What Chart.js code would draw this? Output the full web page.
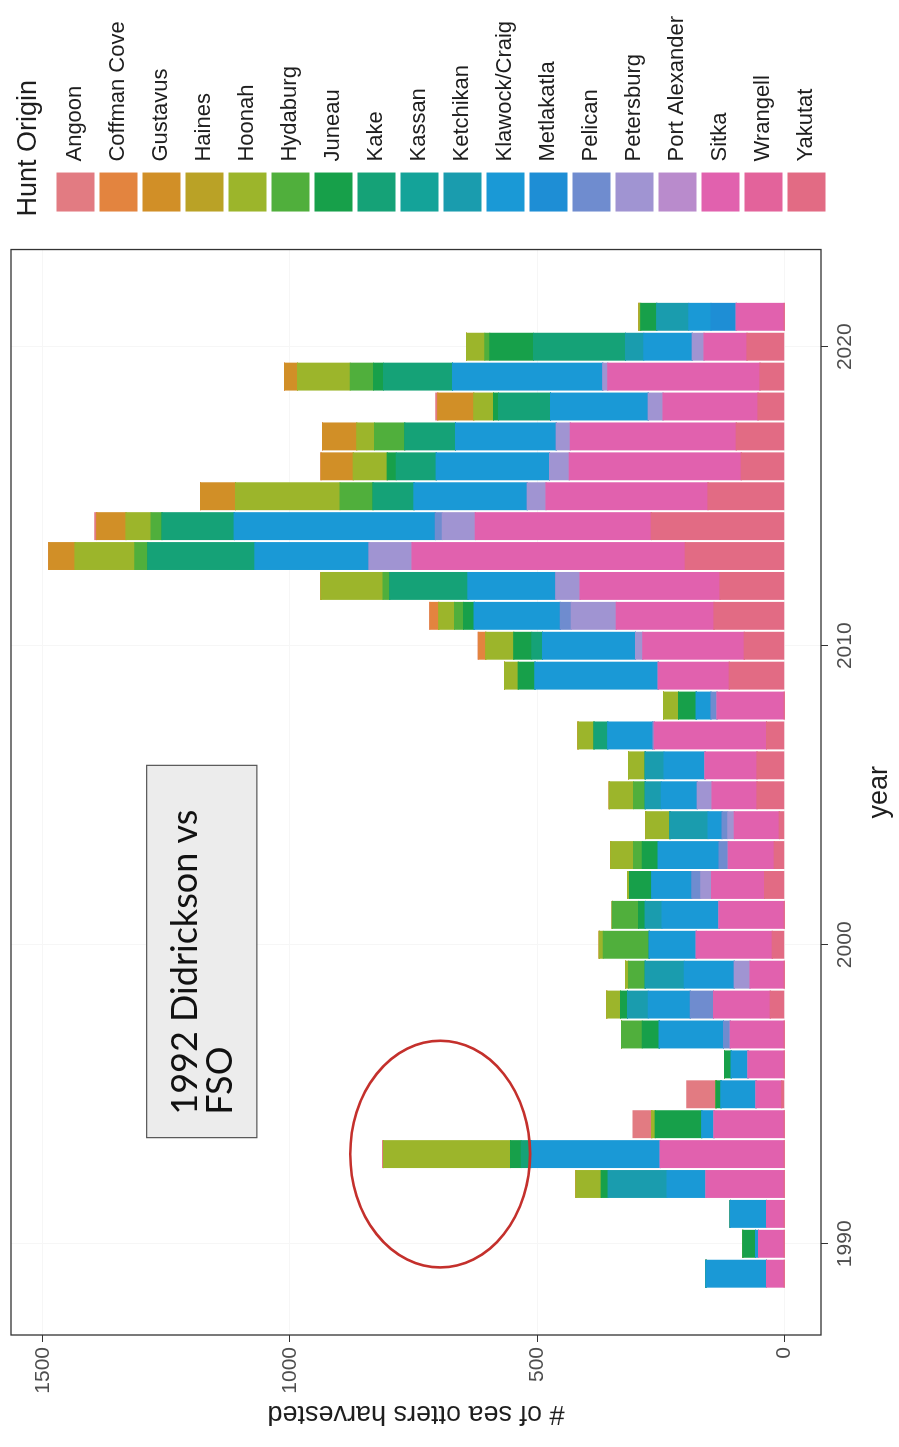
<!DOCTYPE html>
<html>
<head>
<meta charset="utf-8">
<script src="https://cdn.jsdelivr.net/npm/chart.js@4.4.1/dist/chart.umd.min.js"></script>
<style>
    html, body { margin: 0; padding: 0; background: #fff; }
    body { width: 899px; height: 1447px; overflow: hidden; position: relative; }
    /* the page shows the plot turned a quarter turn counter-clockwise */
    #turn { position: absolute; left: 0; top: 0; width: 1447px; height: 899px;
            transform-origin: 0 0; transform: translate(0, 1447px) rotate(-90deg); }
</style>
</head>
<body>
<div id="turn"><canvas id="myChart" width="1447" height="899"></canvas></div>
<script>
const years = [1989, 1990, 1991, 1992, 1993, 1994, 1995, 1996, 1997, 1998,
               1999, 2000, 2001, 2002, 2003, 2004, 2005, 2006, 2007, 2008,
               2009, 2010, 2011, 2012, 2013, 2014, 2015, 2016, 2017, 2018,
               2019, 2020, 2021];

const origins = ['Angoon', 'Coffman Cove', 'Gustavus', 'Haines', 'Hoonah', 'Hydaburg',
                 'Juneau', 'Kake', 'Kassan', 'Ketchikan', 'Klawock/Craig', 'Metlakatla',
                 'Pelican', 'Petersburg', 'Port Alexander', 'Sitka', 'Wrangell', 'Yakutat'];

//                 1989 ...                                   1998  1999 ...                                          2008  2009 ...                                                2018  2019 2020 2021
const angoon     = [0, 0, 0, 0, 2, 38, 59, 0, 0, 0,            0, 0, 0, 0, 0, 0, 0, 0, 0, 0,                          0, 0, 0, 0, 0, 4, 0, 0, 0, 4,                                   0, 0, 0];
const coffman    = [0, 0, 0, 0, 0, 0, 0, 0, 0, 0,              0, 0, 0, 0, 0, 0, 0, 0, 0, 0,                          0, 15, 18, 0, 0, 0, 0, 0, 0, 0,                                 0, 0, 0];
const gustavus   = [0, 0, 0, 0, 0, 0, 0, 0, 0, 0,              0, 0, 0, 0, 0, 0, 0, 0, 0, 0,                          0, 0, 0, 0, 53, 59, 71, 65, 69, 73,                             26, 0, 0];
const haines     = [0, 0, 0, 0, 0, 0, 0, 0, 0, 0,              0, 0, 0, 0, 0, 0, 0, 0, 0, 0,                          0, 0, 0, 0, 0, 0, 0, 0, 0, 0,                                   0, 0, 0];
const hoonah     = [0, 0, 0, 51, 257, 7, 0, 0, 0, 28,          6, 8, 0, 4, 46, 49, 49, 34, 32, 30,                    28, 57, 32, 125, 121, 51, 211, 69, 36, 40,                      107, 37, 4];
const hydaburg   = [0, 0, 0, 0, 0, 0, 0, 0, 42, 0,             34, 93, 53, 0, 18, 0, 24, 0, 0, 0,                     0, 0, 18, 14, 26, 22, 67, 0, 61, 0,                             47, 10, 0];
const juneau     = [0, 26, 0, 14, 22, 94, 10, 14, 34, 14,      0, 0, 14, 45, 32, 0, 0, 0, 0, 36,                      34, 36, 22, 0, 0, 0, 0, 18, 0, 10,                              20, 89, 32];
const kake       = [0, 0, 0, 0, 20, 0, 0, 0, 0, 0,             0, 0, 0, 0, 0, 0, 0, 0, 28, 0,                         0, 22, 0, 158, 217, 146, 83, 81, 103, 105,                      140, 186, 0];
const kassan     = [0, 0, 0, 0, 0, 0, 0, 0, 0, 0,              0, 0, 0, 0, 0, 0, 0, 0, 0, 0,                          0, 0, 0, 0, 0, 0, 0, 0, 0, 0,                                   0, 0, 0];
const ketchikan  = [0, 0, 0, 119, 0, 0, 0, 0, 0, 42,           79, 0, 34, 0, 0, 77, 32, 38, 0, 0,                     0, 0, 0, 0, 0, 0, 0, 0, 0, 0,                                   0, 37, 65];
const klawock    = [122, 6, 73, 79, 261, 25, 71, 34, 130, 85,  101, 95, 115, 81, 123, 28, 73, 83, 91, 30,             249, 188, 174, 178, 231, 407, 229, 229, 204, 198,               304, 98, 45];
const metlakatla = [0, 0, 0, 0, 0, 0, 0, 0, 0, 0,              0, 0, 0, 0, 0, 0, 0, 0, 0, 0,                          0, 0, 0, 0, 0, 0, 0, 0, 0, 0,                                   0, 0, 51];
const pelican    = [0, 0, 0, 0, 0, 0, 0, 0, 14, 47,            0, 0, 0, 18, 19, 12, 0, 0, 3, 12,                      0, 0, 22, 0, 0, 14, 0, 0, 0, 0,                                 0, 0, 0];
const petersburg = [0, 0, 0, 0, 0, 0, 0, 0, 0, 0,              32, 0, 0, 22, 0, 13, 30, 0, 0, 0,                      0, 15, 91, 49, 87, 67, 38, 40, 28, 30,                          10, 24, 0];
const portAlex   = [0, 0, 0, 0, 0, 0, 0, 0, 0, 0,              0, 0, 0, 0, 0, 0, 0, 0, 0, 0,                          0, 0, 0, 0, 0, 0, 0, 0, 0, 0,                                   0, 0, 0];
const sitka      = [36, 52, 36, 158, 251, 142, 52, 73, 109, 115, 69, 154, 132, 107, 93, 91, 91, 105, 227, 136,       144, 205, 198, 283, 553, 356, 328, 348, 336, 192,               308, 87, 97];
const wrangell   = [0, 0, 0, 0, 0, 0, 0, 0, 0, 0,              0, 0, 0, 0, 0, 0, 0, 0, 0, 0,                          0, 0, 0, 0, 0, 0, 0, 0, 0, 0,                                   0, 0, 0];
const yakutat    = [0, 0, 0, 0, 0, 0, 5, 0, 0, 28,             0, 24, 0, 40, 20, 10, 55, 55, 36, 0,                   111, 81, 142, 130, 200, 269, 154, 87, 97, 53,                   49, 75, 0];

const series = [angoon, coffman, gustavus, haines, hoonah, hydaburg, juneau, kake, kassan,
                ketchikan, klawock, metlakatla, pelican, petersburg, portAlex, sitka, wrangell, yakutat];

const colores = ['#E27B82', '#E3843F', '#D18F27', '#BAA226', '#9CB52B', '#50AF3C', '#17A04A',
                 '#15A277', '#14A399', '#1A9CAE', '#1A99D6', '#1E8ED5', '#6F8CCF', '#A094D2',
                 '#B98BCC', '#E161AE', '#E3639B', '#E26B84'];

const xTicks = [1990, 2000, 2010, 2020];
const yTicks = [0, 500, 1000, 1500];

// note box and the red ring, in data units
const noteYears = [1993.55, 2006.0];
const noteValues = [1067, 1290];
const noteLines = ['1992 Didrickson vs', 'FSO'];
const ringCenter = [1993.0, 696];
const ringRadius = [3.79, 182];

Chart.defaults.font.family = '"Liberation Sans", Arial, sans-serif';

const notas = {
    id: 'notas',
    afterDatasetsDraw(chart) {
        const {ctx, chartArea: a, scales: {x, y}} = chart;
        ctx.save();

        ctx.strokeStyle = '#333';
        ctx.lineWidth = 1.3;
        ctx.strokeRect(a.left, a.top, a.width, a.height);

        const x1 = x.getPixelForValue(noteYears[0]);
        const x2 = x.getPixelForValue(noteYears[1]);
        const y1 = y.getPixelForValue(noteValues[1]);
        const y2 = y.getPixelForValue(noteValues[0]);
        ctx.fillStyle = '#ececec';
        ctx.fillRect(x1, y1, x2 - x1, y2 - y1);
        ctx.strokeStyle = '#555';
        ctx.lineWidth = 1.2;
        ctx.strokeRect(x1, y1, x2 - x1, y2 - y1);
        ctx.fillStyle = '#111';
        ctx.font = '36px Lato, "Open Sans", sans-serif';
        ctx.textBaseline = 'alphabetic';
        ctx.textAlign = 'left';
        noteLines.forEach((t, i) => ctx.fillText(t, x1 + 23, y1 + 50 + i * 35));

        const cx = x.getPixelForValue(ringCenter[0]);
        const cy = y.getPixelForValue(ringCenter[1]);
        const rx = Math.abs(x.getPixelForValue(ringCenter[0] + ringRadius[0]) - cx);
        const ry = Math.abs(y.getPixelForValue(ringCenter[1] + ringRadius[1]) - cy);
        ctx.beginPath();
        ctx.ellipse(cx, cy, rx, ry, 0, 0, Math.PI * 2);
        ctx.strokeStyle = '#C4302C';
        ctx.lineWidth = 2.6;
        ctx.stroke();

        ctx.restore();
    }
};

// ggplot stacks the first level on top, so datasets go in reverse
const datasets = origins.map((name, i) => ({
    label: name,
    data: series[i],
    backgroundColor: colores[i],
    borderWidth: 0,
    inflateAmount: 0.5,
    categoryPercentage: 0.9,
    barPercentage: 1.0
})).reverse();

const ctx = document.getElementById('myChart').getContext('2d');

const myChart = new Chart(ctx, {
    type: 'bar',
    data: {
        labels: years,
        datasets: datasets
    },
    options: {
        responsive: false,
        animation: false,
        layout: { padding: { top: 11, right: 6, bottom: 0, left: 0 } },
        plugins: {
            tooltip: { enabled: false },
            legend: {
                position: 'right',
                align: 'start',
                reverse: true,
                title: {
                    display: true,
                    text: 'Hunt Origin',
                    position: 'start',
                    color: '#1e1e1e',
                    font: { size: 27 },
                    padding: { top: 4, bottom: 4 }
                },
                labels: {
                    boxWidth: 39,
                    boxHeight: 38,
                    padding: 5,
                    color: '#1e1e1e',
                    font: { size: 22 }
                }
            }
        },
        scales: {
            x: {
                type: 'linear',
                stacked: true,
                offset: false,
                min: 1986.95,
                max: 2023.25,
                afterBuildTicks: s => { s.ticks = xTicks.map(v => ({ value: v })); },
                grid: { offset: false, color: '#f6f6f6', tickColor: '#333', tickLength: 7 },
                border: { display: false },
                ticks: { color: '#4d4d4d', font: { size: 21 }, padding: 5, maxRotation: 0,
                         callback: v => String(v) },
                title: { display: true, text: 'year', color: '#1e1e1e', font: { size: 27 },
                         padding: { top: 0, bottom: 3 } },
                afterFit: s => { s.height = 78; s.paddingLeft = 0; s.paddingRight = 0; }
            },
            y: {
                stacked: true,
                min: -74.5,
                max: 1564.5,
                afterBuildTicks: s => { s.ticks = yTicks.map(v => ({ value: v })); },
                grid: { color: '#f6f6f6', tickColor: '#333', tickLength: 7 },
                border: { display: false },
                ticks: { color: '#4d4d4d', font: { size: 21 }, padding: 5,
                         callback: v => String(v) },
                title: { display: true, text: '# of sea otters harvested', color: '#1e1e1e',
                         font: { size: 27 }, padding: { top: 17, bottom: 0 } },
                afterFit: s => { s.width = 112; s.paddingTop = 0; s.paddingBottom = 0; }
            },
            gap: {
                type: 'linear',
                position: 'right',
                display: true,
                grid: { display: false },
                border: { display: false },
                ticks: { display: false },
                afterFit: s => { s.width = 33; }
            }
        }
    },
    plugins: [notas]
});
</script>
</body>
</html>
